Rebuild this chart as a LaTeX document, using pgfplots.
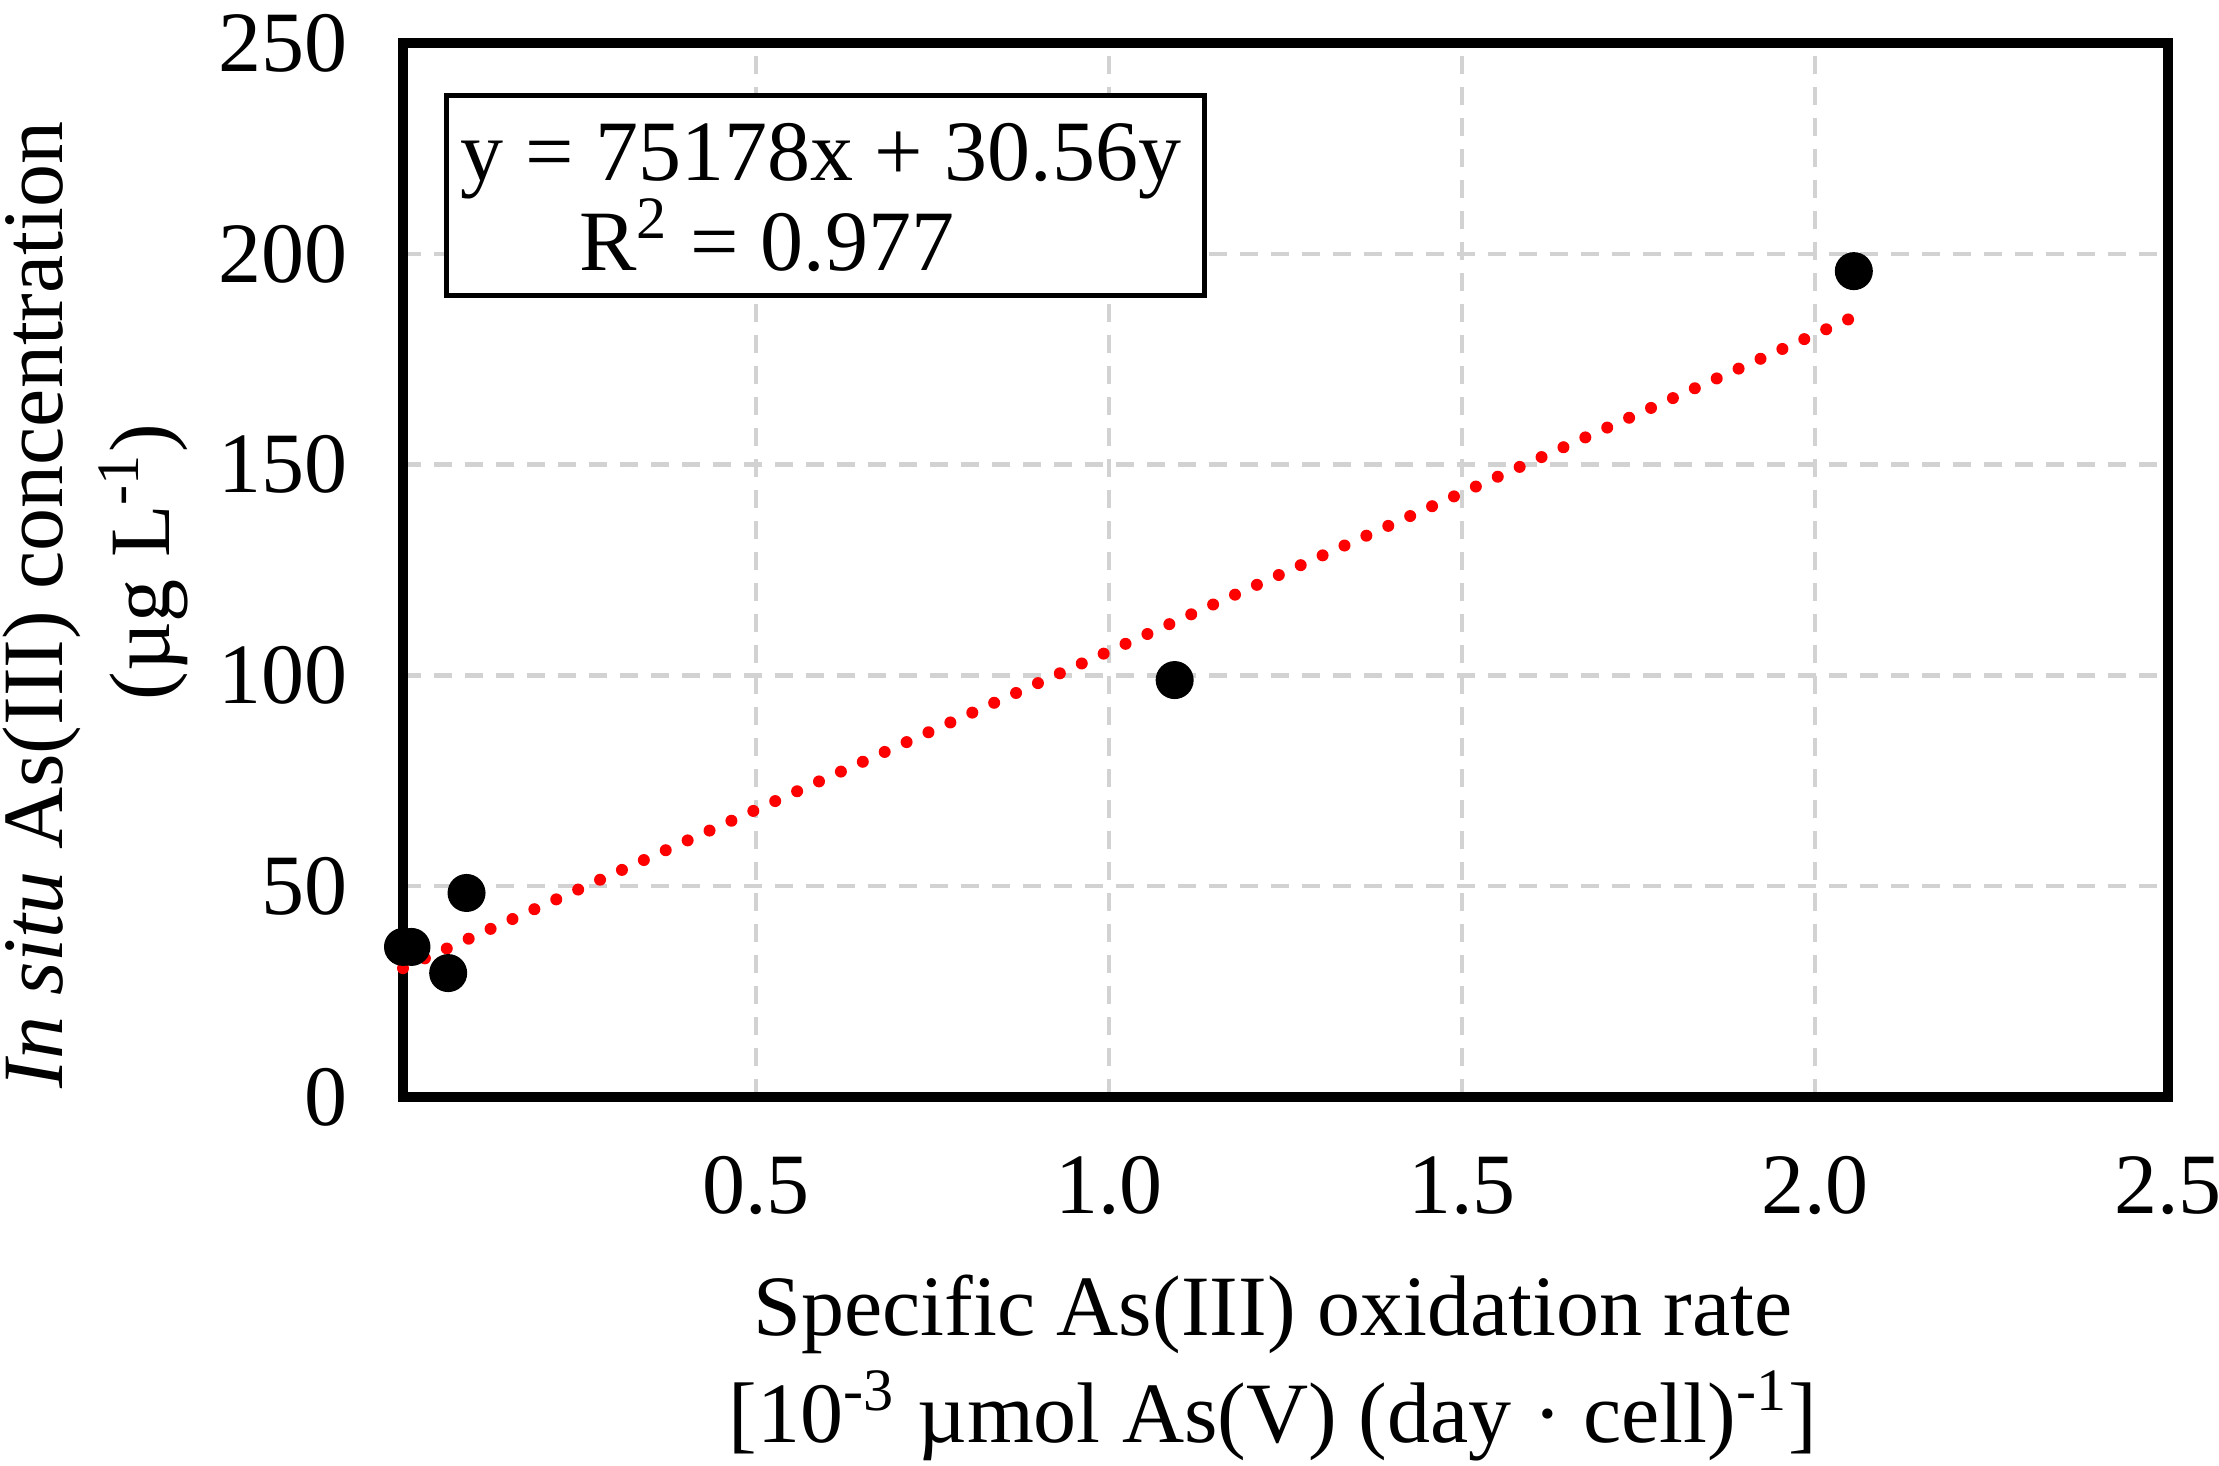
\documentclass[border=0pt]{standalone}
\usepackage{fontspec}
\setmainfont{Liberation Serif}
\usepackage{pgfplots}
\pgfplotsset{compat=1.18}
\begin{document}
\fontsize{17.2}{20}\selectfont
\begin{tikzpicture}
\useasboundingbox (-80.6pt,-73.6pt) rectangle (363.2pt,219.4pt);
\begin{axis}[
  at={(0,0)}, anchor=south west,
  scale only axis, width=353pt, height=210.8pt,
  xmin=0, xmax=2.5, ymin=0, ymax=250,
  xtick={0.5,1,1.5,2,2.5}, xticklabels={0.5,1.0,1.5,2.0,2.5},
  ytick={0,50,100,150,200,250}, yticklabels={0,50,100,150,200,250},
  major tick length=0pt,
  xmajorgrids, ymajorgrids,
  grid style={gray!35, line width=0.9pt, dash pattern=on 3.6pt off 2.6pt},
  axis line style={line width=2pt},
  tick label style={font=\fontsize{17.2}{20}\selectfont, inner sep=0pt},
  xticklabel style={anchor=base, yshift=-23.2pt},
  yticklabel style={anchor=east, xshift=-11pt},
  clip=false,
]
\addplot[only marks, mark=*, mark size=3.6pt, black] coordinates {
  (0.000,35.6) (0.012,35.6) (0.064,29.4) (0.090,48.4) (1.093,98.9) (2.055,195.9)
};
\addplot[red, line width=2.4pt, line cap=round, dash pattern=on 0pt off 4.8pt] coordinates {
  (0,30.56) (2.05,184.67)
};
\end{axis}
\draw[line width=1pt, fill=white] (8.6pt,160.4pt) rectangle (160.2pt,200.4pt);
\node[anchor=base, inner sep=0pt] at (83.6pt,183.4pt) {y = 75178x + 30.56y};
\node[anchor=base, inner sep=0pt] at (72.8pt,165.4pt) {R\textsuperscript{2} = 0.977};
\node[anchor=base, inner sep=0pt] at (174pt,-47.6pt) {Specific As(III) oxidation rate};
\node[anchor=base, inner sep=0pt] at (174pt,-69pt) {[10\textsuperscript{-3} µmol As(V) (day · cell)\textsuperscript{-1}]};
\node[rotate=90, anchor=base, inner sep=0pt] at (-68pt,98.4pt) {\textit{In situ} As(III) concentration};
\node[rotate=90, anchor=base, inner sep=0pt] at (-46.6pt,107pt) {(µg L\textsuperscript{-1})};
\end{tikzpicture}
\end{document}
